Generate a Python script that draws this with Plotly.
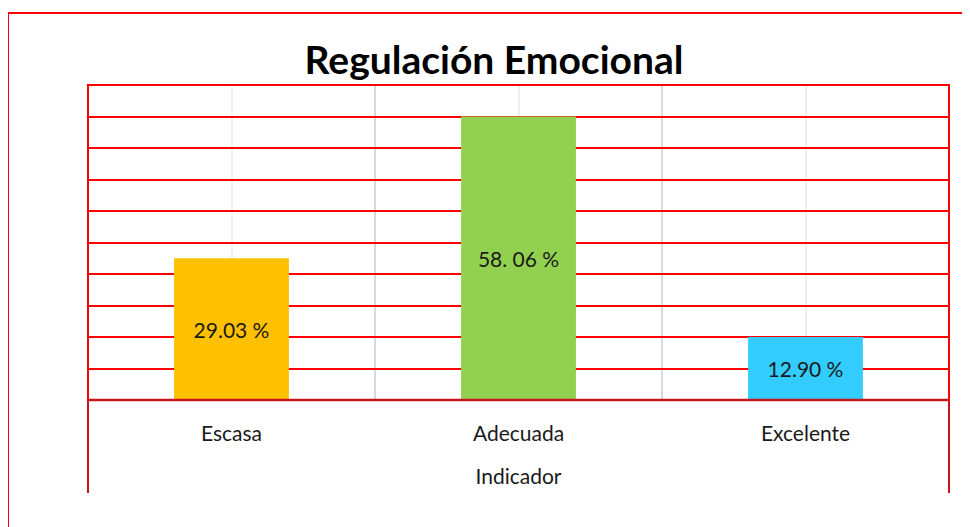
import plotly.graph_objects as go

categories = ["Escasa", "Adecuada", "Excelente"]
counts = [9, 18, 4]
labels = ["29.03 %", "58. 06 %", "12.90 %"]
colors = ["#FFC000", "#92D050", "#33CCFF"]

FONT = "Lato"

fig = go.Figure(
    go.Bar(
        x=categories,
        y=counts,
        text=labels,
        textposition="inside",
        insidetextanchor="middle",
        textangle=0,
        textfont=dict(family=FONT, size=21, color="#1a1a1a"),
        marker=dict(color=colors, line=dict(width=0)),
        width=0.4,
        hoverinfo="skip",
    )
)

RED = "#FF0000"
DARKRED = "#C8141E"

shapes = []
for xb in [0.5, 1.5]:
    shapes.append(dict(type="line", xref="x", yref="paper", x0=xb, x1=xb, y0=0, y1=1,
                       line=dict(color="#D9D9D9", width=2), layer="below"))
shapes.append(dict(type="rect", xref="paper", yref="paper", x0=0, x1=1, y0=0, y1=1,
                   line=dict(color=RED, width=2), layer="above"))
shapes.append(dict(type="line", xref="paper", yref="paper", x0=0, x1=1, y0=0, y1=0,
                   line=dict(color=DARKRED, width=2.5), layer="above"))
for xp in [0, 1]:
    shapes.append(dict(type="line", xref="paper", yref="paper", x0=xp, x1=xp, y0=0, y1=-0.295,
                       line=dict(color=DARKRED, width=2), layer="above"))
shapes.append(dict(type="rect", xref="paper", yref="paper", x0=-0.0929, x1=1.05, y0=-0.45, y1=1.2286,
                   line=dict(color=RED, width=2), layer="above"))

W, H = 962, 519
fig.update_layout(
    width=W,
    height=H,
    margin=dict(l=80, r=21, t=77, b=127),
    paper_bgcolor="white",
    plot_bgcolor="white",
    showlegend=False,
    title=dict(text="<b>Regulación Emocional</b>", x=486 / W, xanchor="center",
               y=1 - 52 / H, yanchor="middle", xref="container", yref="container",
               font=dict(family=FONT, size=39, color="black")),
    xaxis=dict(
        range=[-0.5, 2.5],
        showgrid=True,
        gridcolor="#EFEFEF",
        gridwidth=2,
        showline=False,
        ticks="",
        ticklabelstandoff=19,
        tickfont=dict(family=FONT, size=21, color="#1a1a1a"),
        title=dict(text="Indicador", font=dict(family=FONT, size=21, color="#1a1a1a"), standoff=25),
        zeroline=False,
        fixedrange=True,
    ),
    yaxis=dict(
        range=[0, 20],
        dtick=2,
        showgrid=True,
        gridcolor=RED,
        gridwidth=2,
        showticklabels=False,
        zeroline=False,
        showline=False,
        fixedrange=True,
    ),
    shapes=shapes,
)

fig.write_html("out.html")
